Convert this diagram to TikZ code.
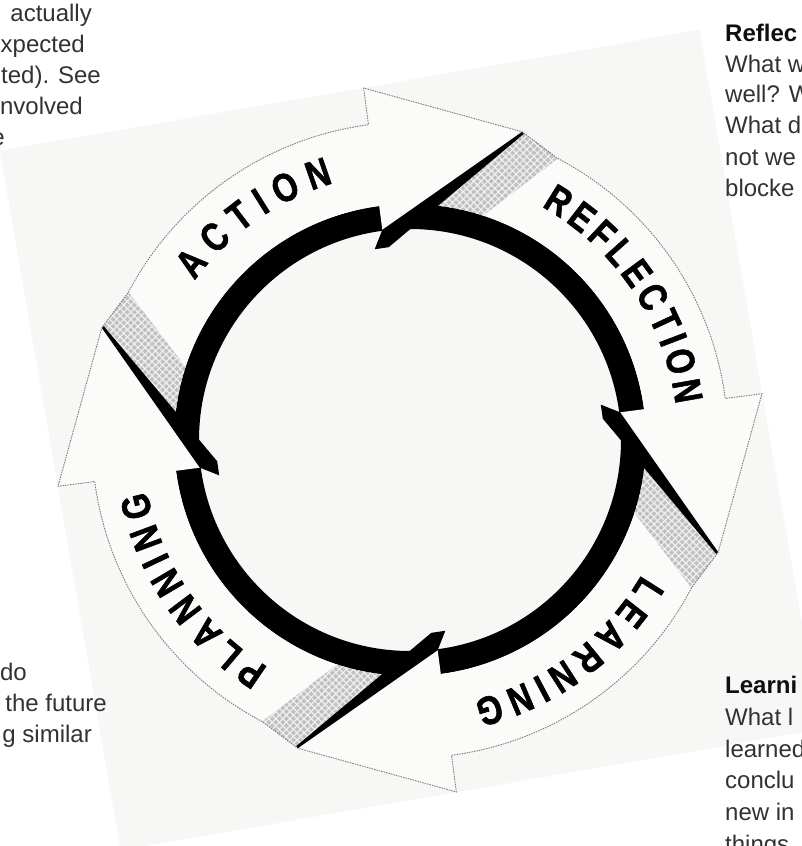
\documentclass[tikz,border=0pt]{standalone}
\usepackage{fontspec}
\setmainfont{Liberation Sans}
\newfontfamily\cyclefam{Liberation Sans}[FakeStretch=0.8, BoldFeatures={FakeBold=1.4}]
\usetikzlibrary{calc,decorations.text,patterns.meta}

\definecolor{sheet}{RGB}{247,248,246}
\definecolor{bandfill}{RGB}{251,251,250}
\definecolor{rimgrey}{RGB}{125,125,125}
\definecolor{hatchbase}{RGB}{192,192,192}
\definecolor{hatchline}{RGB}{240,240,240}
\definecolor{bodytext}{RGB}{50,50,50}
\definecolor{headtext}{RGB}{15,15,15}

\newcommand{\cyclefont}{\cyclefam\bfseries\fontsize{40}{40}\selectfont}

\begin{document}
\begin{tikzpicture}[x=1pt,y=1pt,
  sidetext/.style={font=\fontsize{24}{30}\selectfont, text=bodytext, inner sep=0pt},
  sidehead/.style={font=\fontsize{24}{30}\selectfont\bfseries, text=headtext, inner sep=0pt},
  rim/.style={draw=rimgrey, line width=0.9pt, dash pattern=on 1.5pt off 1pt},
  bodyfill/.style={fill=bandfill},
  hatchfill/.style={fill=hatchbase},
  wall/.style={fill=black},
  cyclelabel/.style={decorate, decoration={text along path, text align={fit to path}}}
]
\useasboundingbox (0,0) rectangle (801,-846);
\fill[white] (0,0) rectangle (801,-846);
% tilted sheet behind the cycle
\fill[sheet, rotate around={9.8:(410,-440)}] (55,-795) rectangle (765,-85);

\begin{scope}[shift={(410,-440)}]
  \coordinate (hub) at (0,0);

  % key points of the four arrows (0 = action, 1 = reflection, 2 = learning, 3 = planning)
  \foreach \k in {0,1,2,3}{
    \pgfmathsetmacro\aTi{162-90*\k}
    \pgfmathsetmacro\aTo{152.3-90*\k}
    \pgfmathsetmacro\aB{97.5-90*\k}
    \pgfmathsetmacro\aTip{70-90*\k}
    \coordinate (tailin\k) at (\aTi:236);
    \coordinate (tailout\k) at (\aTo:318);
    \coordinate (baseout\k) at (\aB:318);
    \coordinate (barbout\k) at (\aB:355);
    \coordinate (tip\k) at (\aTip:328);
    \coordinate (barbin\k) at (\aB:200);
    \coordinate (basein\k) at (\aB:236);
  }

  % inner black wall of the ring
  \fill[black, even odd rule] (hub) circle[radius=236] (hub) circle[radius=211];

  % arrow bodies with heads
  \foreach \k in {0,1,2,3}{
    \pgfmathsetmacro\aTi{162-90*\k}
    \pgfmathsetmacro\aTo{152.3-90*\k}
    \pgfmathsetmacro\aB{97.5-90*\k}
    \fill[bodyfill] (tailin\k) -- (tailout\k)
      arc[start angle=\aTo, end angle=\aB, radius=318]
      -- (barbout\k) -- (tip\k) -- (barbin\k) -- (basein\k)
      arc[start angle=\aB, end angle=\aTi, radius=236] -- cycle;
  }

  % shaded gaps between a head and the next tail
  \foreach \k in {0,1,2,3}{
    \pgfmathsetmacro\aX{86-90*\k}
    \pgfmathsetmacro\aNo{62.3-90*\k}
    \pgfmathsetmacro\aNi{72-90*\k}
    \fill[hatchfill] (\aX:236) -- (tip\k) -- (\aNo:318) -- (\aNi:236)
      arc[start angle=\aNi, end angle=\aX, radius=236] -- cycle;
    \fill[pattern={Lines[angle=45,distance=5pt,line width=1.2pt]}, pattern color=hatchline]
      (\aX:236) -- (tip\k) -- (\aNo:318) -- (\aNi:236)
      arc[start angle=\aNi, end angle=\aX, radius=236] -- cycle;
    \fill[pattern={Lines[angle=-45,distance=5pt,line width=1.2pt]}, pattern color=hatchline]
      (\aX:236) -- (tip\k) -- (\aNo:318) -- (\aNi:236)
      arc[start angle=\aNi, end angle=\aX, radius=236] -- cycle;
  }

  % dark side walls under each head
  \foreach \k in {0,1,2,3}{
    \pgfmathsetmacro\aB{97.5-90*\k}
    \pgfmathsetmacro\aBb{100.5-90*\k}
    \pgfmathsetmacro\aBc{96.3-90*\k}
    \pgfmathsetmacro\aTt{69.6-90*\k}
    \fill[wall] (tip\k) -- (\aB:212) -- (\aBb:194) -- (\aBc:194) -- (\aTt:326.8) -- cycle;
  }

  % thin outer rim
  \foreach \k [evaluate=\k as \n using {int(mod(\k+1,4))}] in {0,1,2,3}{
    \pgfmathsetmacro\aTo{152.3-90*\k}
    \pgfmathsetmacro\aB{97.5-90*\k}
    \draw[rim] (tailout\k) arc[start angle=\aTo, end angle=\aB, radius=318]
      -- (barbout\k) -- (tip\k) -- (tailout\n);
  }

  % labels along the arcs
  \path[cyclelabel, decoration={text={|\cyclefont|ACTION}}]
    (143.5:268) arc[start angle=143.5, end angle=106.6, radius=268];
  \path[cyclelabel, decoration={text={|\cyclefont|REFLECTION}}]
    (60.6:268) arc[start angle=60.6, end angle=7.6, radius=268];
  \path[cyclelabel, decoration={text={|\cyclefont|LEARNING}}]
    (-30.2:268) arc[start angle=-30.2, end angle=-76.2, radius=268];
  \path[cyclelabel, decoration={text={|\cyclefont|PLANNING}}]
    (238:268) arc[start angle=238, end angle=191, radius=268];
\end{scope}

% side notes
\node[sidetext, anchor=base east] (tl1) at (92,-21) {actually};
\node[sidetext, anchor=base east] (tl2) at (85,-52) {xpected};
\node[sidetext, anchor=base east] (tl3) at (101,-83) {ted). See};
\node[sidetext, anchor=base east] (tl4) at (83,-114) {nvolved};
\node[sidetext, anchor=base east] (tl5) at (5,-145) {e};

\node[sidehead, anchor=base west] (tr1) at (725,-41) {Reflec};
\node[sidetext, anchor=base west] (tr2) at (725,-72) {What w};
\node[sidetext, anchor=base west] (tr3) at (725,-102) {well? W};
\node[sidetext, anchor=base west] (tr4) at (725,-133) {What d};
\node[sidetext, anchor=base west] (tr5) at (725,-165) {not we};
\node[sidetext, anchor=base west] (tr6) at (725,-196) {blocke};

\node[sidetext, anchor=base east] (bl1) at (27,-680) {do};
\node[sidetext, anchor=base east] (bl2) at (107,-711) {the future};
\node[sidetext, anchor=base east] (bl3) at (92,-742) {g similar};

\node[sidehead, anchor=base west] (br1) at (725,-693) {Learni};
\node[sidetext, anchor=base west] (br2) at (725,-725) {What l};
\node[sidetext, anchor=base west] (br3) at (725,-757) {learned};
\node[sidetext, anchor=base west] (br4) at (725,-788) {conclu};
\node[sidetext, anchor=base west] (br5) at (725,-820) {new in};
\node[sidetext, anchor=base west] (br6) at (725,-852) {things};
\end{tikzpicture}
\end{document}
